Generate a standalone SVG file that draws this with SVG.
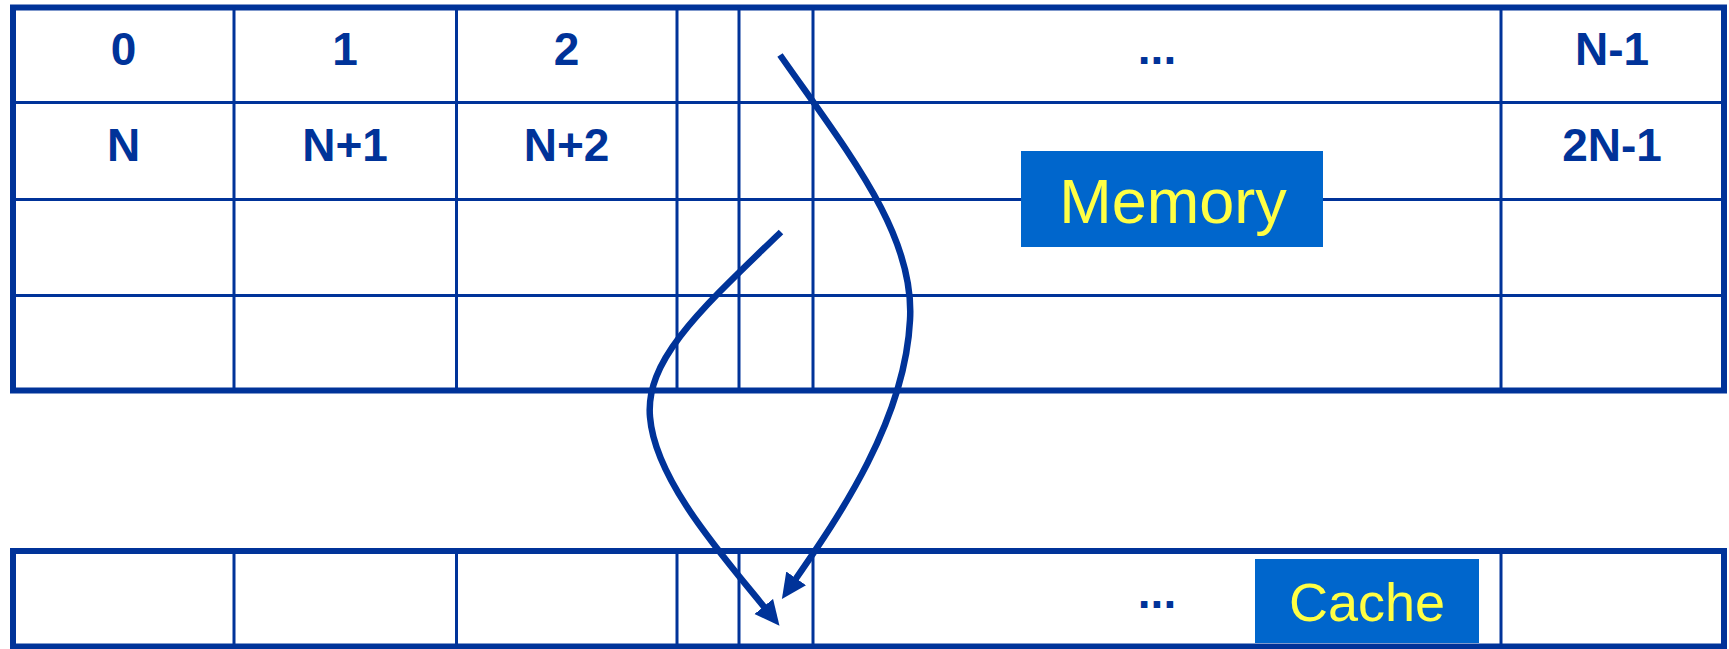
<svg xmlns="http://www.w3.org/2000/svg" width="1729" height="649" viewBox="0 0 1729 649">
<style>
.outer{fill:none;stroke:#003399;stroke-width:6}
.grid{stroke:#003399;stroke-width:3;fill:none}
.lbl{font-family:"Liberation Sans",Arial,sans-serif;font-weight:bold;font-size:46px;fill:#003399;text-anchor:middle}
.box{fill:#0066CC}
.btxt{font-family:"Liberation Sans",Arial,sans-serif;fill:#FFFF44;text-anchor:middle}
.arrow{fill:none;stroke:#003399;stroke-width:6.5}
</style>
<defs>
<marker id="ah" markerUnits="userSpaceOnUse" markerWidth="26" markerHeight="26" refX="2" refY="12" orient="auto">
<path d="M0,0 L25,12 L0,24 z" fill="#003399"/>
</marker>
</defs>
<rect width="1729" height="649" fill="#FFFFFF"/>
<g id="memory">
<rect class="outer" x="13" y="7.5" width="1711" height="383"/>
<path class="grid" d="M234,7.5V390.5 M456.5,7.5V390.5 M677,7.5V390.5 M739,7.5V390.5 M813,7.5V390.5 M1501,7.5V390.5 M13,102.5H1724 M13,199.5H1724 M13,295.5H1724"/>
<text class="lbl" x="123.5" y="65">0</text>
<text class="lbl" x="345" y="65">1</text>
<text class="lbl" x="566.5" y="65">2</text>
<text class="lbl" x="1157" y="64">...</text>
<text class="lbl" x="1612" y="65">N-1</text>
<text class="lbl" x="123.5" y="161">N</text>
<text class="lbl" x="345" y="161">N+1</text>
<text class="lbl" x="566.5" y="161">N+2</text>
<text class="lbl" x="1612" y="161">2N-1</text>
</g>
<g id="memory-label">
<rect class="box" x="1021" y="151" width="302" height="96"/>
<text class="btxt" x="1173" y="223" font-size="63">Memory</text>
</g>
<g id="cache">
<rect class="outer" x="13" y="551" width="1711" height="95.5"/>
<path class="grid" d="M234,551V646.5 M456.5,551V646.5 M677,551V646.5 M739,551V646.5 M813,551V646.5 M1501,551V646.5"/>
<text class="lbl" x="1157" y="608">...</text>
</g>
<g id="cache-label">
<rect class="box" x="1255" y="559" width="224" height="84"/>
<text class="btxt" x="1367" y="621" font-size="54">Cache</text>
</g>
<g id="connectors">
<path class="arrow" marker-end="url(#ah)" d="M780,55 C850,155 915,235 910,320 C905,420 840,515 795,580"/>
<path class="arrow" marker-end="url(#ah)" d="M781,232 C700,310 645,360 650,417 C655,480 722,555 765,608"/>
</g>
</svg>
